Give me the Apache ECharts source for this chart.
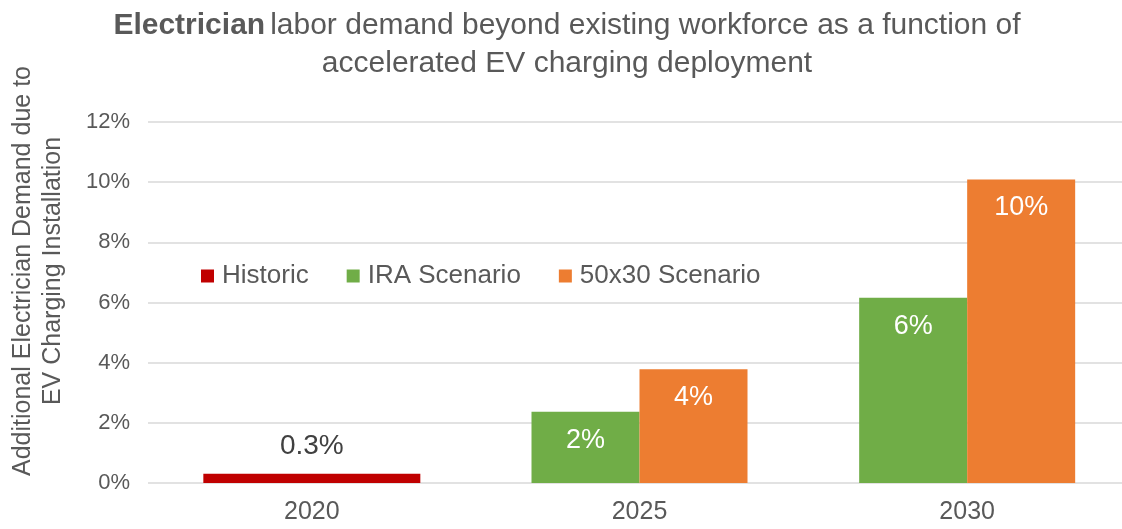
<!DOCTYPE html>
<html>
<head>
<meta charset="utf-8">
<title>Electrician labor demand</title>
<script src="https://cdn.jsdelivr.net/npm/echarts@6/dist/echarts.min.js"></script>
<style>
  html, body { margin: 0; padding: 0; background: #ffffff; }
  #chart { width: 1122px; height: 529px; }
</style>
</head>
<body>
<div id="chart"></div>
<script>
// Years on the horizontal axis
const categories = ['2020', '2025', '2030'];
// Additional electrician demand, percent of existing workforce
const historic = [0.31, null, null];
const iraScenario = [null, 2.37, 6.16];
const scenario50x30 = [null, 3.78, 10.09];
// Vertical axis range, percent
const yTicks = { min: 0, max: 12, interval: 2 };

const textColor = '#595959';
const font = 'Liberation Sans, Arial, sans-serif';

const chart = echarts.init(document.getElementById('chart'), null, { renderer: 'canvas' });

const innerLabel = (digits) => ({
  show: true,
  position: 'insideTop',
  distance: 15,
  color: '#ffffff',
  fontFamily: font,
  fontSize: 27,
  formatter: (p) => p.value == null ? '' : p.value.toFixed(digits) + '%'
});

chart.setOption({
  animation: false,
  backgroundColor: '#ffffff',
  title: {
    left: 562,
    top: 2,
    textAlign: 'center',
    text: '{b|Electrician} {r|labor demand beyond existing workforce as a function of}\n{r|accelerated EV charging deployment}',
    textStyle: {
      rich: {
        b: { fontFamily: font, fontSize: 30, fontWeight: 'bold', color: textColor, lineHeight: 38 },
        r: { fontFamily: font, fontSize: 30, fontWeight: 'normal', color: textColor, lineHeight: 38 }
      }
    }
  },
  legend: {
    left: 196,
    top: 258,
    itemWidth: 13,
    itemHeight: 13,
    itemGap: 38,
    icon: 'rect',
    textStyle: { fontFamily: font, fontSize: 26, color: textColor, padding: [0, 0, 0, 3] },
    data: ['Historic', 'IRA Scenario', '50x30 Scenario']
  },
  graphic: [{
    type: 'text',
    x: 38,
    y: 271,
    rotation: Math.PI / 2,
    style: {
      text: 'Additional Electrician Demand due to\nEV Charging Installation',
      fontFamily: font,
      fontSize: 25,
      lineHeight: 30,
      fill: textColor,
      align: 'center',
      verticalAlign: 'middle'
    }
  }],
  // the plot runs slightly past the right edge of the canvas
  grid: { left: 148, width: 983, top: 122, bottom: 46, outerBoundsMode: 'none' },
  xAxis: [{
    type: 'category',
    data: categories,
    axisLine: { show: false },
    axisTick: { show: false },
    axisLabel: { color: textColor, fontFamily: font, fontSize: 25, margin: 17 }
  }, {
    type: 'category',
    data: categories,
    show: false
  }],
  yAxis: {
    type: 'value',
    min: yTicks.min,
    max: yTicks.max,
    interval: yTicks.interval,
    axisLine: { show: false },
    axisTick: { show: false },
    splitLine: { lineStyle: { color: '#d9d9d9', width: 1.5 } },
    axisLabel: {
      color: textColor, fontFamily: font, fontSize: 22, margin: 18,
      formatter: '{value}%'
    }
  },
  series: [{
    name: 'Historic',
    type: 'bar',
    xAxisIndex: 1,
    data: historic,
    barWidth: 217,
    itemStyle: { color: '#c00000' },
    label: {
      show: true,
      position: 'top',
      distance: 13,
      color: '#404040',
      fontFamily: font,
      fontSize: 28,
      formatter: (p) => p.value == null ? '' : p.value.toFixed(1) + '%'
    }
  }, {
    name: 'IRA Scenario',
    type: 'bar',
    data: iraScenario,
    barWidth: 108,
    barGap: '0%',
    itemStyle: { color: '#70ad47' },
    label: innerLabel(0)
  }, {
    name: '50x30 Scenario',
    type: 'bar',
    data: scenario50x30,
    barWidth: 108,
    barGap: '0%',
    itemStyle: { color: '#ed7d31' },
    label: innerLabel(0)
  }]
});
</script>
</body>
</html>
